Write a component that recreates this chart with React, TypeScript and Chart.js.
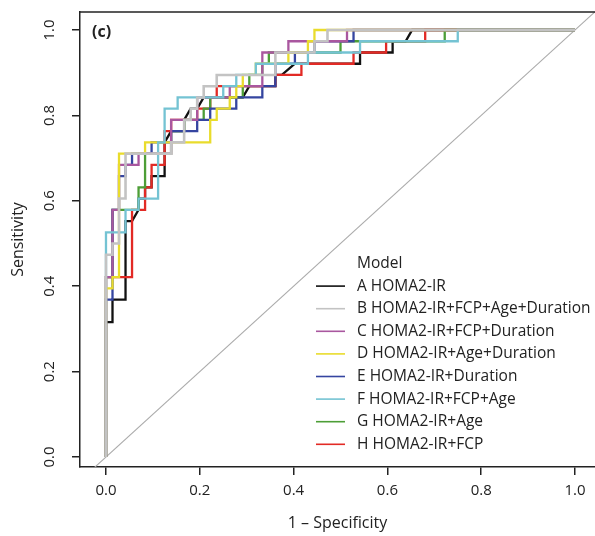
import React, { useEffect, useRef } from 'react';
import { Chart, registerables } from 'chart.js';

Chart.register(...registerables);

// ROC data: counts of false positives (out of NEG) and true positives (out of POS)
const NEG = 72;
const POS = 38;

const modelLabels = [
  'A HOMA2-IR',
  'B HOMA2-IR+FCP+Age+Duration',
  'C HOMA2-IR+FCP+Duration',
  'D HOMA2-IR+Age+Duration',
  'E HOMA2-IR+Duration',
  'F HOMA2-IR+FCP+Age',
  'G HOMA2-IR+Age',
  'H HOMA2-IR+FCP',
];

const modelColors = ['#111111', '#c3c3c3', '#a9579f', '#e9dc2c', '#3545a0', '#74c3d3', '#4d9e37', '#e22a25'];

const curveA = [[0,0],[0,12],[1,12],[1,14],[3,14],[3,21],[4,21],[5,22],[5,23],[6,23],[6,24],[7,24],[7,25],[9,25],[9,28],[10,29],[12,29],[12,30],[13,31],[14,31],[15,32],[21,32],[22,33],[26,33],[26,34],[27,34],[29,35],[39,35],[39,36],[44,36],[44,37],[46,37],[47,38],[72,38]];
const curveB = [[0,0],[0,18],[1,18],[1,19],[2,19],[2,23],[3,23],[3,27],[10,27],[10,28],[12,28],[12,30],[13,30],[13,31],[14,31],[14,32],[15,32],[15,33],[17,33],[17,34],[26,34],[26,36],[32,36],[32,37],[34,37],[34,38],[72,38]];
const curveC = [[0,0],[0,16],[1,16],[1,22],[2,22],[2,26],[5,26],[5,27],[10,27],[10,30],[14,30],[14,32],[19,32],[19,33],[24,33],[24,36],[28,36],[28,37],[37,37],[37,38],[72,38]];
const curveD = [[0,0],[0,15],[1,15],[1,16],[2,16],[2,27],[6,27],[6,28],[16,28],[16,30],[17,30],[17,31],[19,31],[19,32],[20,32],[20,33],[21,33],[21,34],[23,34],[23,35],[28,35],[28,36],[31,36],[31,37],[32,37],[32,38],[72,38]];
const curveE = [[0,0],[0,14],[1,14],[1,22],[2,22],[2,25],[3,25],[3,26],[4,26],[4,27],[7,27],[7,28],[10,28],[10,29],[14,29],[14,30],[16,30],[16,31],[20,31],[20,32],[24,32],[24,33],[26,33],[26,35],[29,35],[29,36],[32,36],[32,37],[38,37],[38,38],[72,38]];
const curveF = [[0,0],[0,20],[3,20],[3,22],[5,22],[5,23],[8,23],[8,28],[9,28],[9,31],[11,31],[11,32],[18,32],[18,33],[20,33],[20,34],[23,34],[23,35],[31,35],[31,36],[39,36],[39,37],[54,37],[54,38],[72,38]];
const curveG = [[0,0],[0,16],[1,16],[1,22],[5,22],[5,24],[6,24],[6,27],[10,27],[10,29],[12,29],[12,30],[15,30],[15,31],[16,31],[16,32],[21,32],[21,33],[22,33],[22,34],[24,34],[24,35],[25,35],[25,36],[36,36],[36,37],[52,37],[52,38],[72,38]];
const curveH = [[0,0],[0,16],[4,16],[4,22],[6,22],[6,24],[7,24],[7,26],[9,26],[9,29],[10,29],[10,30],[14,30],[14,31],[16,31],[16,32],[17,32],[17,33],[26,33],[26,34],[30,34],[30,35],[38,35],[38,36],[43,36],[43,37],[49,37],[49,38],[72,38]];

const curves = [curveA, curveB, curveC, curveD, curveE, curveF, curveG, curveH];
// drawing order: lower = on top
const drawOrder = [7, 0, 3, 2, 4, 1, 5, 6];

const diagonal = [[-0.2, -0.2], [1.2, 1.2]];

const xTickValues = [0, 0.2, 0.4, 0.6, 0.8, 1.0];
const xTickLabels = ['0.0', '0.2', '0.4', '0.6', '0.8', '1.0'];
const yTickValues = [0, 0.2, 0.4, 0.6, 0.8, 1.0];
const yTickLabels = ['0.0', '0.2', '0.4', '0.6', '0.8', '1.0'];

const FONT = "'Open Sans', 'Noto Sans', sans-serif";
const INK = '#222222';

const framePlugin = {
  id: 'framePlugin',
  afterDraw(chart: any) {
    const { ctx, chartArea } = chart;
    const yScale = chart.scales.y;
    ctx.save();
    // top frame line
    ctx.strokeStyle = INK;
    ctx.lineWidth = 1.5;
    ctx.beginPath();
    ctx.moveTo(chartArea.left - 0.75, chartArea.top);
    ctx.lineTo(chartArea.right, chartArea.top);
    ctx.stroke();

    // rotated y tick labels
    ctx.fillStyle = INK;
    ctx.font = `15px ${FONT}`;
    ctx.textAlign = 'center';
    ctx.textBaseline = 'middle';
    yTickValues.forEach((v, i) => {
      const py = yScale.getPixelForValue(v);
      ctx.save();
      ctx.translate(chartArea.left - 30, py);
      ctx.rotate(-Math.PI / 2);
      ctx.fillText(yTickLabels[i], 0, 0);
      ctx.restore();
    });

    // panel label
    ctx.font = `bold 16px ${FONT}`;
    ctx.textAlign = 'left';
    ctx.fillText('(c)', chartArea.left + 12, chartArea.top + 20);

    // legend
    const lx = chartArea.left + 236;
    const ly = chartArea.top + 251.5;
    const rowH = 22.6;
    ctx.font = `15.5px ${FONT}`;
    ctx.fillText('Model', lx + 41, ly);
    chart.data.datasets.forEach((ds: any, i: number) => {
      if (i >= modelLabels.length) return;
      const cy = ly + rowH * (i + 1);
      ctx.strokeStyle = ds.borderColor;
      ctx.lineWidth = 1.6;
      ctx.beginPath();
      ctx.moveTo(lx, cy);
      ctx.lineTo(lx + 29, cy);
      ctx.stroke();
      ctx.fillStyle = INK;
      ctx.fillText(ds.label, lx + 41, cy);
    });
    ctx.restore();
  },
};

export default function App() {
  const canvasRef = useRef<HTMLCanvasElement | null>(null);

  useEffect(() => {
    if (!canvasRef.current) return;
    const datasets: any[] = curves.map((c, i) => ({
      label: modelLabels[i],
      data: c.map(([fp, tp]) => ({ x: fp / NEG, y: tp / POS })),
      borderColor: modelColors[i],
      backgroundColor: modelColors[i],
      borderWidth: i === 1 ? 2.6 : 2.3,
      pointRadius: 0,
      tension: 0,
      fill: false,
      order: drawOrder[i],
    }));
    datasets.push({
      label: 'diagonal',
      data: diagonal.map(([x, y]) => ({ x, y })),
      borderColor: '#ababab',
      borderWidth: 1.1,
      pointRadius: 0,
      fill: false,
      order: 20,
    });

    const chart = new Chart(canvasRef.current, {
      type: 'line',
      data: { datasets },
      options: {
        animation: false,
        responsive: false,
        devicePixelRatio: 1,
        layout: { padding: { top: 12, right: 0, left: 0, bottom: 0 } },
        plugins: { legend: { display: false }, tooltip: { enabled: false } },
        scales: {
          x: {
            type: 'linear',
            min: -0.0554,
            max: 1.0426,
            afterBuildTicks: (s: any) => {
              s.ticks = xTickValues.map((v) => ({ value: v }));
            },
            afterFit: (s: any) => {
              s.height = 69;
            },
            ticks: {
              autoSkip: false,
              maxRotation: 0,
              minRotation: 0,
              padding: 7,
              color: INK,
              font: { family: FONT, size: 15 },
              callback: (v: any) => xTickLabels[xTickValues.indexOf(Number(v))],
            },
            grid: { drawOnChartArea: false, drawTicks: true, tickLength: 8, color: INK, lineWidth: 1.5 },
            border: { display: true, color: INK, width: 1.5 },
            title: {
              display: true,
              text: '1 – Specificity',
              color: INK,
              font: { family: FONT, size: 16 },
              padding: { top: 4, bottom: 3 },
            },
          },
          y: {
            type: 'linear',
            min: -0.0234,
            max: 1.0422,
            afterBuildTicks: (s: any) => {
              s.ticks = yTickValues.map((v) => ({ value: v }));
            },
            afterFit: (s: any) => {
              s.width = 80;
            },
            ticks: { display: false },
            grid: { drawOnChartArea: false, drawTicks: true, tickLength: 8, color: INK, lineWidth: 1.5 },
            border: { display: true, color: INK, width: 1.5 },
            title: {
              display: true,
              text: 'Sensitivity',
              color: INK,
              font: { family: FONT, size: 16 },
              padding: { top: 9, bottom: 4 },
            },
          },
        },
      },
      plugins: [framePlugin],
    });
    return () => chart.destroy();
  }, []);

  return (
    <div style={{ position: 'absolute', left: 0, top: 0, width: 595, height: 536, background: '#fff' }}>
      <canvas ref={canvasRef} width={595} height={536} style={{ display: 'block' }} />
    </div>
  );
}
